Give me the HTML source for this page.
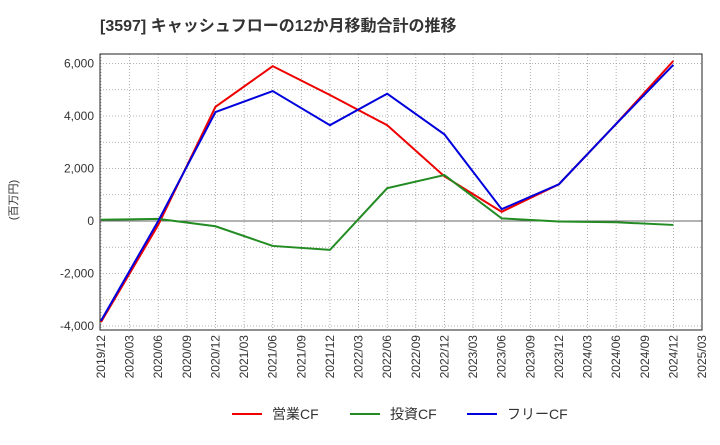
<!DOCTYPE html>
<html><head><meta charset="utf-8"><style>
body{margin:0;background:#fff;font-family:"Liberation Sans","Noto Sans CJK JP",sans-serif}
</style></head><body>
<svg id="c" width="720" height="440" xmlns="http://www.w3.org/2000/svg">
<text x="100" y="31" font-size="16" font-weight="bold" fill="#333" font-family="Liberation Sans,Noto Sans CJK JP,sans-serif">[3597]  キャッシュフローの12か月移動合計の推移</text>
<text transform="translate(17,200) rotate(-90)" font-size="11" fill="#333" text-anchor="middle" font-family="Liberation Sans,Noto Sans CJK JP,sans-serif">(百万円)</text>
<g id="grid"></g><g id="axes"></g><g id="series"></g>
<g font-size="14" fill="#333" font-family="Liberation Sans,Noto Sans CJK JP,sans-serif">
<line x1="232" y1="414" x2="262" y2="414" stroke="#e00" stroke-width="2"/><text x="272" y="419">営業CF</text>
<line x1="350" y1="414" x2="380" y2="414" stroke="#228b22" stroke-width="2"/><text x="390" y="419">投資CF</text>
<line x1="467" y1="414" x2="497" y2="414" stroke="#00d" stroke-width="2"/><text x="507" y="419">フリーCF</text>
</g>
</svg>
<script>
const tickLabels=["2019/12","2020/03","2020/06","2020/09","2020/12","2021/03","2021/06","2021/09","2021/12","2022/03","2022/06","2022/09","2022/12","2023/03","2023/06","2023/09","2023/12","2024/03","2024/06","2024/09","2024/12","2025/03"];
const yTicks=[6000,4000,2000,0,-2000,-4000];
const pointIdx=[0,2,4,6,8,10,12,14,16,18,20];
const operatingCF=[-3850,-150,4350,5900,4800,3650,1700,350,1400,3700,6100];
const investingCF=[50,80,-200,-950,-1100,1250,1750,100,-20,-50,-150];
const freeCF=[-3800,0,4150,4950,3650,4850,3300,450,1400,3700,5950];
const NS="http://www.w3.org/2000/svg";
const L=100,R=702,T=54,B=330;
const x=i=>L+1+i*(R-L-1)/21;
const y=v=>221-v*52.5/2000;
function mk(tag,attrs,parent){const e=document.createElementNS(NS,tag);for(const k in attrs)e.setAttribute(k,attrs[k]);document.getElementById(parent).appendChild(e);return e;}
for(let i=0;i<tickLabels.length;i++){
 const g=mk('line',{x1:x(i),x2:x(i),y1:T,y2:B,stroke:'#999','stroke-dasharray':'1,2','stroke-width':0.8},'grid');
 
 
 const t=mk('text',{transform:`translate(${x(i)+4},${B+5}) rotate(-90)`,'font-size':12,fill:'#333','text-anchor':'end'},'axes');
 t.textContent=tickLabels[i];
 
 
}
for(let v=-4000;v<=6000;v+=1000){
 const g=mk('line',{x1:L,x2:R,y1:y(v),y2:y(v),stroke:'#999','stroke-dasharray':'1,2','stroke-width':0.8},'grid');
 
 
}
yTicks.forEach(v=>{
 const t=mk('text',{x:L-6,y:y(v)+4,'font-size':12,fill:'#333','text-anchor':'end'},'axes');
 t.textContent=v.toLocaleString('en-US');
 
 
});
const zl=mk('line',{x1:L,x2:R,y1:y(0),y2:y(0),stroke:'#666','stroke-width':1},'axes');


const fr=mk('rect',{x:L,y:T,width:R-L,height:B-T,fill:'none',stroke:'#222','stroke-width':1},'axes');


[[operatingCF,'#e00','operating-cf-line'],[investingCF,'#228b22','investing-cf-line'],[freeCF,'#00d','free-cf-line']].forEach(([d,c,n])=>{
 const p=mk('polyline',{points:d.map((v,k)=>x(pointIdx[k])+','+y(v)).join(' '),fill:'none',stroke:c,'stroke-width':2},'series');
 
 
});
</script>
</body></html>
